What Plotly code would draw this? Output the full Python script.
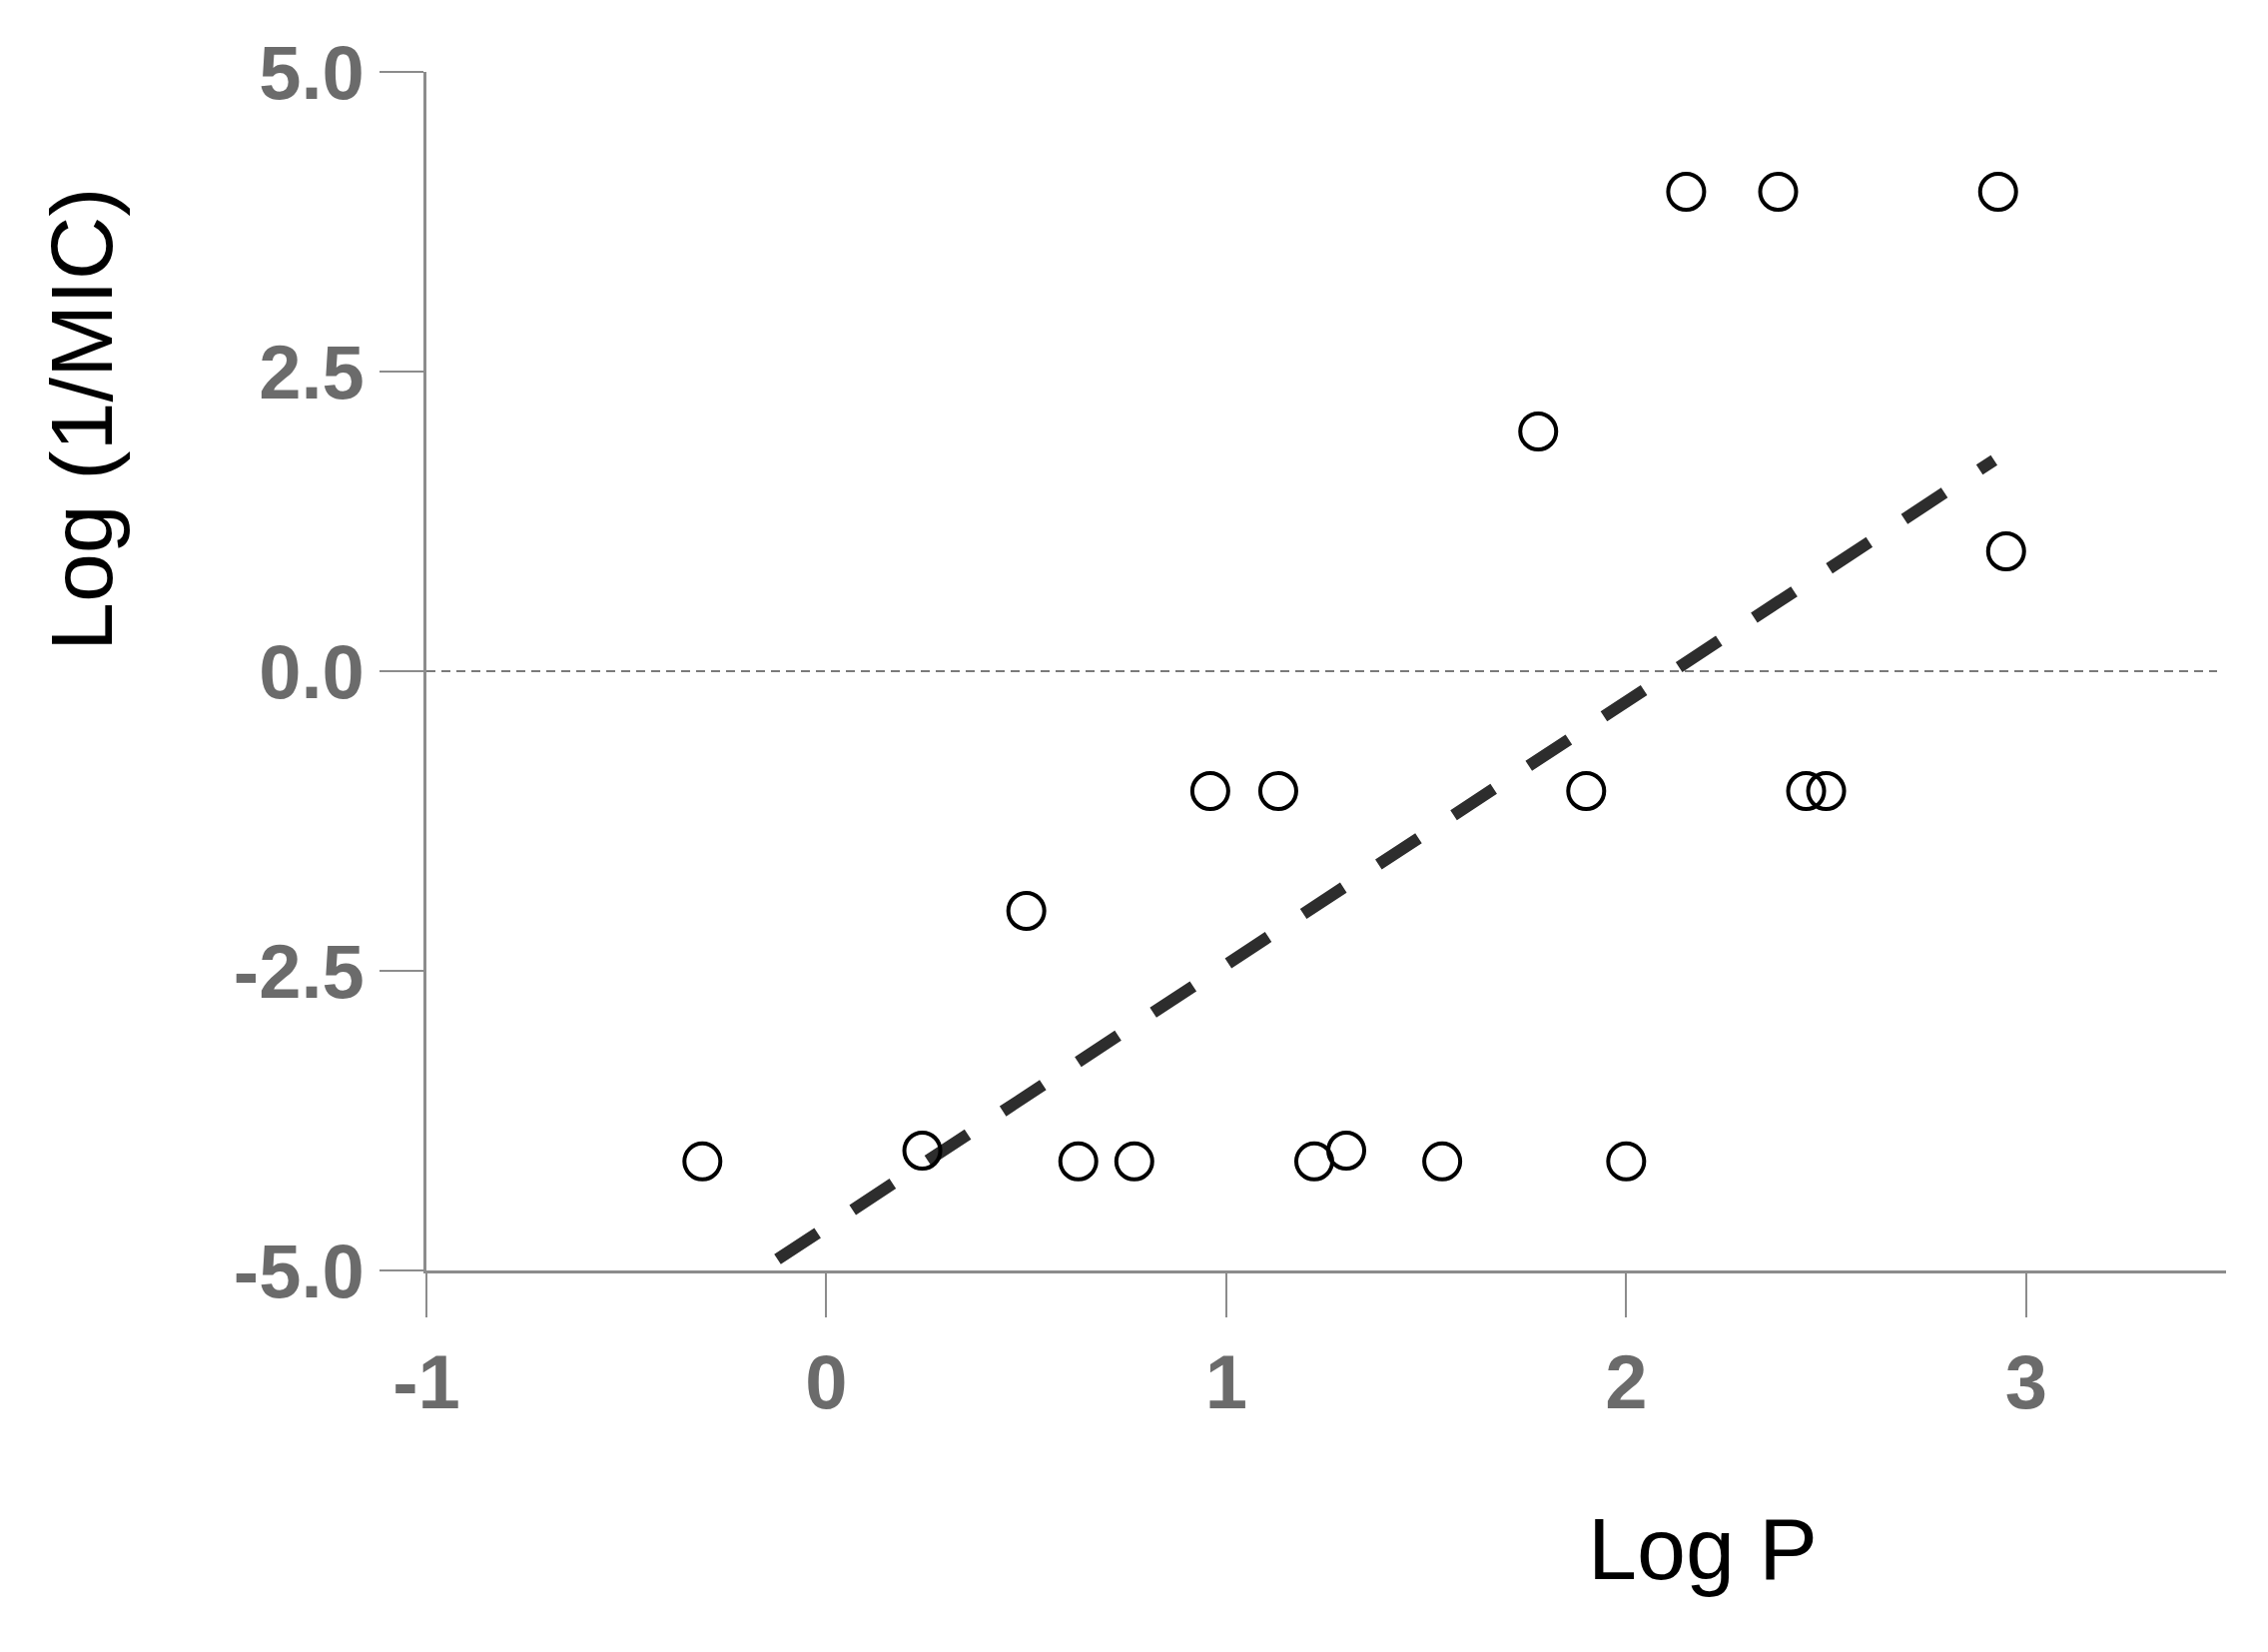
import numpy as np
import plotly.graph_objects as go

# Log P (x) and Log (1/MIC) (y) for each compound
log_p = [-0.31, 0.24, 0.50, 0.63, 0.77, 0.96, 1.13, 1.22, 1.30, 1.54,
         1.78, 1.90, 2.00, 2.15, 2.38, 2.45, 2.50, 2.93, 2.95]
log_inv_mic = [-4.09, -4.0, -2.0, -4.09, -4.09, -1.0, -1.0, -4.09, -4.0, -4.09,
               2.0, -1.0, -4.09, 4.0, 4.0, -1.0, -1.0, 4.0, 1.0]

x_ticks = [-1, 0, 1, 2, 3]
x_tick_text = ["-1", "0", "1", "2", "3"]
y_ticks = [5.0, 2.5, 0.0, -2.5, -5.0]
y_tick_text = ["5.0", "2.5", "0.0", "-2.5", "-5.0"]

AXIS_GREY = "#8c8c8c"
LABEL_GREY = "#6b6b6b"
FONT = "Liberation Sans, Arial, sans-serif"

# least squares fit line
slope, intercept = np.polyfit(log_p, log_inv_mic, 1)
fit_x = [min(log_p), 2.92]
fit_y = [slope * v + intercept for v in fit_x]

fig = go.Figure()

fig.add_trace(go.Scatter(
    x=fit_x, y=fit_y,
    mode="lines",
    line=dict(color="#2d2d2d", width=12, dash="48px,42px"),
    showlegend=False,
))

fig.add_trace(go.Scatter(
    x=log_p, y=log_inv_mic,
    mode="markers",
    marker=dict(symbol="circle-open", size=36, color="black",
                line=dict(width=4, color="black")),
    showlegend=False,
))

# dotted zero reference line
fig.add_shape(type="line", xref="paper", yref="y", x0=0, x1=0.995, y0=0, y1=0,
              line=dict(color="#7a7a7a", width=2, dash="9px,6px"), layer="below")

axis_common = dict(
    showgrid=False, zeroline=False,
    showline=True, linecolor=AXIS_GREY, linewidth=3,
    ticks="outside", ticklen=44, tickwidth=2, tickcolor=AXIS_GREY,
    tickfont=dict(family=FONT, size=76, color=LABEL_GREY, weight="bold"),
)

fig.update_xaxes(range=[-1, 3.5], tickvals=x_ticks, ticktext=x_tick_text, **axis_common)
fig.update_yaxes(range=[-5, 5], tickvals=y_ticks, ticktext=y_tick_text, **axis_common)

fig.add_annotation(text="Log P", xref="paper", yref="paper",
                   x=0.709, y=-0.232, xanchor="center", yanchor="middle",
                   showarrow=False, font=dict(family=FONT, size=88, color="black"))
fig.add_annotation(text="Log (1/MIC)", xref="paper", yref="paper",
                   x=-0.192, y=0.71, xanchor="center", yanchor="middle",
                   textangle=-90, showarrow=False,
                   font=dict(family=FONT, size=88, color="black"))

# page body adds an 8px offset, so the figure is 8px smaller and margins shift
fig.update_layout(
    width=2263, height=1646,
    margin=dict(l=419, r=42, t=64, b=382),
    plot_bgcolor="white", paper_bgcolor="white",
)

fig.write_html("out.html")
